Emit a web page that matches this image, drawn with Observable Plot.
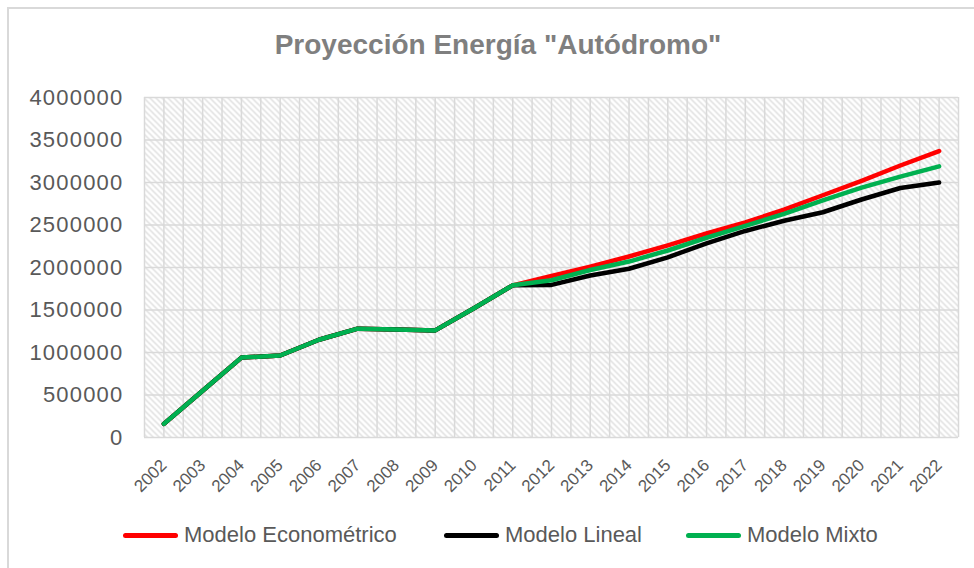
<!DOCTYPE html>
<html>
<head>
<meta charset="utf-8">
<script src="https://cdn.jsdelivr.net/npm/d3@7"></script>
<script src="https://cdn.jsdelivr.net/npm/@observablehq/plot@0.6"></script>
<style>
  html, body { margin: 0; padding: 0; background: #fff; }
  #wrap { position: relative; width: 974px; height: 568px; overflow: hidden; background: #fff; font-family: "Liberation Sans", Arial, sans-serif; }
  #border { position: absolute; left: 7px; top: 7px; right: -10px; bottom: -10px; border-left: 2px solid #d9d9d9; border-top: 2px solid #d9d9d9; }
  #title { position: absolute; left: 0; top: 28px; width: 996px; text-align: center; font-size: 28px; line-height: 34px; font-weight: bold; color: #7f7f7f; font-family: "Liberation Sans", Arial, sans-serif; }
  #chart { position: absolute; left: 0; top: 80px; }
  #legend { position: absolute; top: 520px; left: 0; width: 974px; height: 30px; }
  .li { position: absolute; top: 0; height: 30px; display: flex; align-items: center; font-size: 22px; color: #595959; font-family: "Liberation Sans", Arial, sans-serif; }
  .sw { width: 55px; height: 5px; border-radius: 3px; margin-right: 6px; }
  .ylab text { letter-spacing: 1.2px; }
</style>
</head>
<body>
<div id="wrap">
  <div id="border"></div>
  <div id="title">Proyección Energía "Autódromo"</div>
  <div id="chart"></div>
  <div id="legend"></div>
</div>
<script>
const years = [2002,2003,2004,2005,2006,2007,2008,2009,2010,2011,2012,2013,2014,2015,2016,2017,2018,2019,2020,2021,2022];
const history = [160000,550000,940000,965000,1150000,1280000,1270000,1260000,1520000,1790000];
const econometrico = [1900000,2010000,2130000,2260000,2400000,2530000,2680000,2850000,3020000,3200000,3370000];
const lineal = [1795000,1906000,1985000,2120000,2285000,2430000,2550000,2650000,2800000,2935000,3000000];
const mixto = [1850000,1970000,2070000,2200000,2350000,2490000,2630000,2790000,2940000,3070000,3190000];
const seriesNames = ["Modelo Econométrico", "Modelo Lineal", "Modelo Mixto"];
const seriesColors = ["#ff0000", "#000000", "#00b050"];
const yTicks = [0,500000,1000000,1500000,2000000,2500000,3000000,3500000,4000000];

function build(name, proj) {
  const rows = [];
  for (let i = 0; i < history.length; i++) rows.push({year: years[i], value: history[i], series: name});
  for (let i = 0; i < proj.length; i++) rows.push({year: years[history.length + i], value: proj[i], series: name});
  return rows;
}
const dataE = build(seriesNames[0], econometrico);
const dataL = build(seriesNames[1], lineal);
const dataM = build(seriesNames[2], mixto);

const halfGrid = d3.range(years[0] - 0.5, years[years.length - 1] + 0.51, 0.5);

const plot = Plot.plot({
  width: 974,
  height: 425,
  marginLeft: 144,
  marginRight: 16,
  marginTop: 17,
  marginBottom: 68,
  style: {fontFamily: "Liberation Sans, Arial, sans-serif", background: "transparent", overflow: "visible"},
  x: {type: "linear", domain: [years[0] - 0.5, years[years.length - 1] + 0.5], axis: null},
  y: {domain: [0, 4000000], axis: null},
  marks: [
    Plot.frame({fill: "url(#hatch)", stroke: null}),
    Plot.ruleX(halfGrid, {stroke: "#d9d9d9", strokeWidth: 1.5}),
    Plot.ruleY(yTicks, {stroke: "#d9d9d9", strokeWidth: 1.5}),
    Plot.line(dataE, {x: "year", y: "value", stroke: seriesColors[0], strokeWidth: 4.5, strokeLinecap: "round", strokeLinejoin: "round"}),
    Plot.line(dataL, {x: "year", y: "value", stroke: seriesColors[1], strokeWidth: 4.5, strokeLinecap: "round", strokeLinejoin: "round"}),
    Plot.line(dataM, {x: "year", y: "value", stroke: seriesColors[2], strokeWidth: 4.5, strokeLinecap: "round", strokeLinejoin: "round"}),
    Plot.text(yTicks, {x: years[0] - 0.5, y: d => d, text: d => String(d), textAnchor: "end", dx: -21, fontSize: 22, fill: "#595959", className: "ylab"}),
    Plot.text(years, {x: d => d, y: 0, text: d => String(d), textAnchor: "end", rotate: -45, dx: 0, dy: 25, fontSize: 17, fill: "#595959"})
  ]
});

const defs = document.createElementNS("http://www.w3.org/2000/svg", "defs");
defs.innerHTML = '<pattern id="hatch" patternUnits="userSpaceOnUse" width="6" height="6">' +
  '<rect width="6" height="6" fill="#ffffff"/>' +
  '<path d="M-1,-1 L7,7 M-1,5 L1,7 M5,-1 L7,1" stroke="#dddddd" stroke-width="1.4"/>' +
  '</pattern>';
plot.insertBefore(defs, plot.firstChild);
document.getElementById("chart").appendChild(plot);

const legend = document.getElementById("legend");
const lefts = [123, 444, 686];
seriesNames.forEach((n, i) => {
  const el = document.createElement("div");
  el.className = "li";
  el.style.left = lefts[i] + "px";
  el.style.top = "0px";
  el.innerHTML = '<div class="sw" style="background:' + seriesColors[i] + '"></div><span>' + n + '</span>';
  legend.appendChild(el);
});
</script>
</body>
</html>
